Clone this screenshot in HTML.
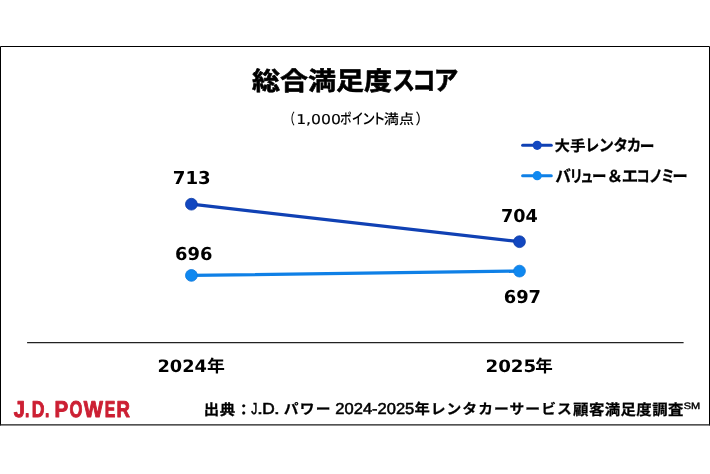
<!DOCTYPE html>
<html lang="ja">
<head>
<meta charset="utf-8">
<title>総合満足度スコア</title>
<style>
html,body{margin:0;padding:0;background:#fff;}
body{width:710px;height:474px;overflow:hidden;}
svg{display:block;will-change:transform;text-rendering:geometricPrecision;}
.jp{font-family:"Liberation Sans","Noto Sans CJK JP",sans-serif;}
.dv{font-family:"DejaVu Sans","Noto Sans CJK JP",sans-serif;}
.b{font-weight:700;}
.m{font-weight:500;}
</style>
</head>
<body>
<svg width="710" height="474" viewBox="0 0 710 474">
  <rect x="0" y="0" width="710" height="474" fill="#fff"/>
  <path d="M0.5 425.4V46.5H709.5V425.4" fill="none" stroke="#000" stroke-width="1"/>
  <line x1="0" y1="424.85" x2="710" y2="424.85" stroke="#1a1a1a" stroke-width="1.2"/>
  <text fill="#000" stroke="#000" stroke-width="0.6" stroke-linejoin="round"><tspan class="jp b" x="252.01" y="90" font-size="25.5" textLength="140" lengthAdjust="spacingAndGlyphs">総合満足度</tspan><tspan class="jp b" x="392.26" y="90" font-size="27" textLength="22.84" lengthAdjust="spacingAndGlyphs">ス</tspan><tspan class="jp b" x="412.24" y="90" font-size="27" textLength="23.32" lengthAdjust="spacingAndGlyphs">コ</tspan><tspan class="jp b" x="433.71" y="90" font-size="27" textLength="24.7" lengthAdjust="spacingAndGlyphs">ア</tspan></text>
  <text fill="#000"><tspan class="jp m" x="283.94" y="124" font-size="14.67" textLength="10.95" lengthAdjust="spacingAndGlyphs">（</tspan><tspan class="dv" x="296.16" y="124" font-size="13.5" textLength="44.81" lengthAdjust="spacingAndGlyphs" stroke="#000" stroke-width="0.15">1,000</tspan><tspan class="jp m" x="340.09" y="124" font-size="14.67" textLength="11.76" lengthAdjust="spacingAndGlyphs">ポ</tspan><tspan class="jp m" x="351.7" y="124" font-size="14.67" textLength="11.9" lengthAdjust="spacingAndGlyphs">イ</tspan><tspan class="jp m" x="361.98" y="124" font-size="14.67" textLength="13.23" lengthAdjust="spacingAndGlyphs">ン</tspan><tspan class="jp m" x="372.03" y="124" font-size="14.67" textLength="13.73" lengthAdjust="spacingAndGlyphs">ト</tspan><tspan class="jp m" x="383.82" y="124" font-size="14" textLength="30.22" lengthAdjust="spacingAndGlyphs">満点</tspan><tspan class="jp m" x="415.39" y="124" font-size="14.67" textLength="13.5" lengthAdjust="spacingAndGlyphs">）</tspan></text>
  <g stroke-linecap="round" stroke-width="3">
  <line x1="522.6" y1="145.3" x2="551.3" y2="145.3" stroke="#1041B4"/><circle cx="537.2" cy="145.3" r="4.6" fill="#1247C0"/>
  <line x1="522.6" y1="175.7" x2="551.3" y2="175.7" stroke="#0F80E6"/><circle cx="537.2" cy="175.7" r="4.6" fill="#0F88F0"/>
  </g>
  <text fill="#000" stroke="#000" stroke-width="0.3"><tspan class="jp b" x="554.84" y="151" font-size="14.8" textLength="15.04" lengthAdjust="spacingAndGlyphs">大</tspan><tspan class="jp b" x="570.26" y="151" font-size="14.8" textLength="15.23" lengthAdjust="spacingAndGlyphs">手</tspan><tspan class="jp b" x="585.16" y="151" font-size="16.3" textLength="14.03" lengthAdjust="spacingAndGlyphs">レ</tspan><tspan class="jp b" x="598.64" y="151" font-size="16.3" textLength="15.15" lengthAdjust="spacingAndGlyphs">ン</tspan><tspan class="jp b" x="613.53" y="151" font-size="16.3" textLength="14.42" lengthAdjust="spacingAndGlyphs">タ</tspan><tspan class="jp b" x="626.79" y="151" font-size="16.3" textLength="14.58" lengthAdjust="spacingAndGlyphs">カ</tspan><tspan class="jp b" x="639.75" y="152" font-size="16.3" textLength="14.72" lengthAdjust="spacingAndGlyphs">ー</tspan></text>
  <text fill="#000" stroke="#000" stroke-width="0.3"><tspan class="jp b" x="555.13" y="182" font-size="16.3" textLength="15.69" lengthAdjust="spacingAndGlyphs">バ</tspan><tspan class="jp b" x="569.49" y="182" font-size="16.3" textLength="13.46" lengthAdjust="spacingAndGlyphs">リ</tspan><tspan class="jp b" x="580.3" y="182" font-size="16.3" textLength="13.45" lengthAdjust="spacingAndGlyphs">ュ</tspan><tspan class="jp b" x="592.07" y="182" font-size="16.3" textLength="14.48" lengthAdjust="spacingAndGlyphs">ー</tspan><tspan class="jp b" x="606.51" y="182" font-size="16.3" textLength="16.52" lengthAdjust="spacingAndGlyphs">＆</tspan><tspan class="jp b" x="621.78" y="182" font-size="16.3" textLength="16.43" lengthAdjust="spacingAndGlyphs">エ</tspan><tspan class="jp b" x="636.6" y="182" font-size="16.3" textLength="13.17" lengthAdjust="spacingAndGlyphs">コ</tspan><tspan class="jp b" x="648.98" y="182" font-size="16.3" textLength="13.93" lengthAdjust="spacingAndGlyphs">ノ</tspan><tspan class="jp b" x="660.91" y="182" font-size="16.3" textLength="13.73" lengthAdjust="spacingAndGlyphs">ミ</tspan><tspan class="jp b" x="672.4" y="182" font-size="16.3" textLength="15.21" lengthAdjust="spacingAndGlyphs">ー</tspan></text>
  <g stroke-linecap="round" stroke-width="3.3"><line x1="191.4" y1="204.2" x2="519.5" y2="241.7" stroke="#1041B4"/><line x1="191.4" y1="275.4" x2="519.5" y2="271.1" stroke="#0F80E6"/></g>
  <g stroke-width="0.8"><circle cx="191.4" cy="204.2" r="5.9" fill="#1247C0" stroke="#0E3CA6"/><circle cx="519.5" cy="241.7" r="5.9" fill="#1247C0" stroke="#0E3CA6"/><circle cx="191.4" cy="275.4" r="5.9" fill="#0F88F0" stroke="#0D77DA"/><circle cx="519.5" cy="271.1" r="5.9" fill="#0F88F0" stroke="#0D77DA"/></g>
  <text fill="#000"><tspan class="dv b" x="172.78" y="184" font-size="17.8" textLength="37.96" lengthAdjust="spacingAndGlyphs">713</tspan></text>
  <text fill="#000"><tspan class="dv b" x="500.92" y="222" font-size="17.8" textLength="36.79" lengthAdjust="spacingAndGlyphs">704</tspan></text>
  <text fill="#000"><tspan class="dv b" x="174.99" y="260" font-size="17.8" textLength="37.37" lengthAdjust="spacingAndGlyphs">696</tspan></text>
  <text fill="#000"><tspan class="dv b" x="503.69" y="303" font-size="17.8" textLength="37.33" lengthAdjust="spacingAndGlyphs">697</tspan></text>
  <line x1="27.1" y1="342.65" x2="683.6" y2="342.65" stroke="#222" stroke-width="1.15"/>
  <text fill="#000"><tspan class="dv b" x="157.49" y="372" font-size="17" textLength="49.52" lengthAdjust="spacingAndGlyphs">2024</tspan><tspan class="jp b" x="207.04" y="372" font-size="17.05" textLength="17.88" lengthAdjust="spacingAndGlyphs">年</tspan></text>
  <text fill="#000"><tspan class="dv b" x="485.46" y="372" font-size="17" textLength="50.82" lengthAdjust="spacingAndGlyphs">2025</tspan><tspan class="jp b" x="535.25" y="372" font-size="17.05" textLength="17.55" lengthAdjust="spacingAndGlyphs">年</tspan></text>
  <text fill="#CC1F33" stroke="#CC1F33" stroke-width="1.0" stroke-linejoin="round"><tspan class="jp b" x="13.75" y="417" font-size="22.8" textLength="11.06" lengthAdjust="spacingAndGlyphs">J</tspan><tspan class="jp b" x="25.04" y="417" font-size="22.8" textLength="4.33" lengthAdjust="spacingAndGlyphs">.</tspan><tspan class="jp b" x="31.82" y="417" font-size="22.8" textLength="12.72" lengthAdjust="spacingAndGlyphs">D</tspan><tspan class="jp b" x="44.94" y="417" font-size="22.8" textLength="4.33" lengthAdjust="spacingAndGlyphs">.</tspan> <tspan class="jp b" x="54.53" y="417" font-size="22.8" textLength="13.67" lengthAdjust="spacingAndGlyphs">P</tspan><tspan class="jp b" x="69.57" y="417" font-size="22.8" textLength="12.93" lengthAdjust="spacingAndGlyphs">O</tspan><tspan class="jp b" x="83.68" y="417" font-size="22.8" textLength="19.14" lengthAdjust="spacingAndGlyphs">W</tspan><tspan class="jp b" x="104.74" y="417" font-size="22.8" textLength="10.58" lengthAdjust="spacingAndGlyphs">E</tspan><tspan class="jp b" x="116.46" y="417" font-size="22.8" textLength="13.42" lengthAdjust="spacingAndGlyphs">R</tspan></text>
  <text fill="#000" stroke="#000" stroke-width="0.25"><tspan class="jp b" x="203.74" y="415" font-size="15.1" letter-spacing="0.68" textLength="48.29" lengthAdjust="spacingAndGlyphs">出典：</tspan><tspan class="jp" x="251.29" y="414" font-size="15.9" textLength="6.03" lengthAdjust="spacingAndGlyphs" stroke="#000" stroke-width="0.55">J</tspan><tspan class="jp" x="257.01" y="414" font-size="15.9" textLength="5.98" lengthAdjust="spacingAndGlyphs" stroke="#000" stroke-width="0.55">.</tspan><tspan class="jp" x="262.26" y="414" font-size="15.9" textLength="12.5" lengthAdjust="spacingAndGlyphs" stroke="#000" stroke-width="0.55">D</tspan><tspan class="jp" x="274" y="414" font-size="15.9" textLength="5.69" lengthAdjust="spacingAndGlyphs" stroke="#000" stroke-width="0.55">.</tspan> <tspan class="jp b" x="283.77" y="414" font-size="14.3" letter-spacing="1.17" textLength="47.81" lengthAdjust="spacingAndGlyphs">パワー</tspan> <tspan class="jp" x="335.34" y="414" font-size="15.9" textLength="78.97" lengthAdjust="spacingAndGlyphs" stroke="#000" stroke-width="0.55">2024-2025</tspan><tspan class="jp b" x="414.53" y="414" font-size="14.5" textLength="15.28" lengthAdjust="spacingAndGlyphs">年</tspan><tspan class="jp b" x="430.73" y="414" font-size="14.3" letter-spacing="1.03" textLength="142.1" lengthAdjust="spacingAndGlyphs">レンタカーサービス</tspan><tspan class="jp b" x="573.12" y="415" font-size="15.1" letter-spacing="0.4" textLength="110.69" lengthAdjust="spacingAndGlyphs">顧客満足度調査</tspan><tspan class="jp" x="683.75" y="409" font-size="9.3" textLength="16.45" lengthAdjust="spacingAndGlyphs" stroke="#000" stroke-width="0.4">SM</tspan></text>
</svg>
</body>
</html>
